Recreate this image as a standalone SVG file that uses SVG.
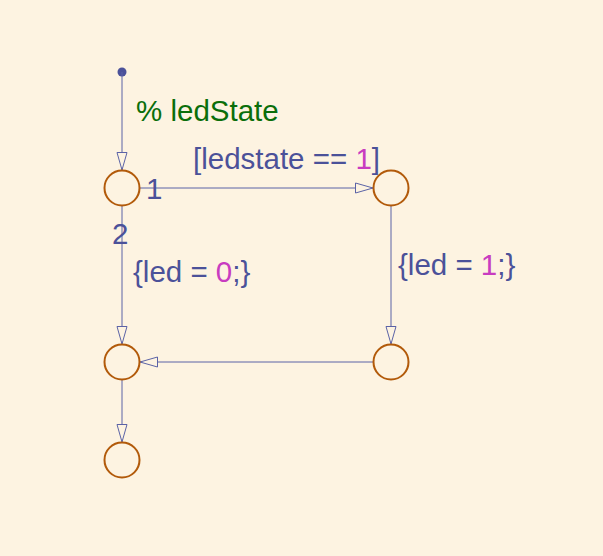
<svg xmlns="http://www.w3.org/2000/svg" width="603" height="556" viewBox="0 0 603 556">
<style>
.j{fill:none;stroke:#B25A0A;stroke-width:2}
.c{fill:none;stroke:#5B62A6;stroke-width:1}
.t{font-family:"Liberation Sans",Arial,sans-serif;font-size:29.5px;fill:#4B5199}
.g{fill:#0A6E0A}
.n{fill:#C83CC0}
</style>
<defs>
<marker id="ah" markerUnits="userSpaceOnUse" markerWidth="22" markerHeight="14" refX="18" refY="6" orient="auto">
<path d="M0.5,1 L18,6 L0.5,11 Z" fill="#FDF3E1" stroke="#5B62A6" stroke-width="1"/>
</marker>
</defs>
<rect width="603" height="556" fill="#FDF3E1"/>
<g id="connectors">
<circle cx="122" cy="72" r="4.5" fill="#4B5199"/>
<path class="c" d="M122,72 V170" marker-end="url(#ah)"/>
<path class="c" d="M139,188 H373" marker-end="url(#ah)"/>
<path class="c" d="M391,205 V344" marker-end="url(#ah)"/>
<path class="c" d="M374,362 H140" marker-end="url(#ah)"/>
<path class="c" d="M122,205 V344" marker-end="url(#ah)"/>
<path class="c" d="M122,379 V442" marker-end="url(#ah)"/>
</g>
<g id="labels">
<text class="t g" x="136" y="121">% ledState</text>
<text class="t" x="193" y="169">[ledstate == <tspan class="n">1</tspan>]</text>
<text class="t" x="146" y="199">1</text>
<text class="t" x="112" y="244">2</text>
<text class="t" x="133" y="282">{led = <tspan class="n">0</tspan>;}</text>
<text class="t" x="398" y="275">{led = <tspan class="n">1</tspan>;}</text>
</g>
<g id="j1"><circle class="j" cx="122" cy="188" r="17.5"/></g>
<g id="j2"><circle class="j" cx="391" cy="188" r="17.5"/></g>
<g id="j3"><circle class="j" cx="122" cy="362" r="17.5"/></g>
<g id="j4"><circle class="j" cx="391" cy="362" r="17.5"/></g>
<g id="j5"><circle class="j" cx="122" cy="460" r="17.5"/></g>
</svg>
